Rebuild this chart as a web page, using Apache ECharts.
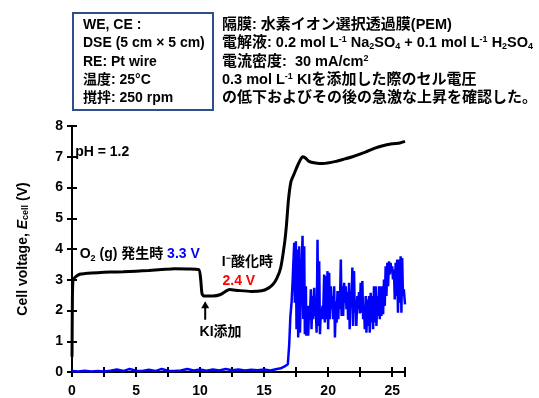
<!DOCTYPE html>
<html>
<head>
<meta charset="utf-8">
<script src="https://cdn.jsdelivr.net/npm/echarts@6/dist/echarts.min.js"></script>
<style>
  html, body { margin: 0; padding: 0; background: #fff; }
  #chart { width: 539px; height: 398px; }
</style>
</head>
<body>
<div id="chart"></div>
<script>
// cell voltage E_cell (V) vs time
const blackCurve = [
  [0, 0.5], [0.03, 2.3], [0.08, 3.0], [0.3, 3.1], [0.6, 3.18], [1, 3.2], [2, 3.23],
  [3, 3.25], [4, 3.26], [5, 3.28], [6, 3.3], [7, 3.33], [8, 3.36], [9, 3.35],
  [9.9, 3.33], [10.05, 3.0], [10.15, 2.55], [10.3, 2.47], [11, 2.47], [11.6, 2.52],
  [12.3, 2.68], [13.0, 2.65], [14, 2.62], [14.8, 2.64], [15.3, 2.72], [15.7, 2.85],
  [16.0, 3.05], [16.3, 3.4], [16.6, 4.2], [16.75, 4.8], [16.9, 5.6], [17.1, 6.2],
  [17.35, 6.45], [17.6, 6.7], [18.0, 7.0], [18.2, 6.97], [18.5, 6.85], [19.0, 6.8],
  [19.6, 6.78], [20.6, 6.85], [21.3, 6.93], [21.9, 7.0], [22.9, 7.15], [23.6, 7.27],
  [24.2, 7.35], [25.0, 7.42], [25.6, 7.45], [26, 7.5]
];

const blueCurve = [
  [0, 0.03], [0.5, 0.02], [1, 0.04], [1.5, 0.02], [2, 0.03], [2.5, 0.02], [3, 0.04],
  [3.5, 0.08], [4, 0.03], [4.5, 0.1], [5, 0.04], [5.5, 0.03], [6, 0.07], [6.5, 0.03],
  [7, 0.1], [7.5, 0.04], [8, 0.03], [8.5, 0.05], [9, 0.1], [9.5, 0.05], [10, 0.08],
  [10.5, 0.04], [11, 0.08], [11.5, 0.05], [12, 0.1], [12.5, 0.06], [13, 0.08],
  [13.5, 0.05], [14, 0.07], [14.5, 0.06], [15, 0.08], [15.5, 0.05], [16, 0.1],
  [16.3, 0.12], [16.6, 0.18], [16.85, 0.25], [16.96, 0.9], [17.05, 1.8], [17.15, 2.3],
  [17.22, 2.9], [17.35, 4.2], [17.4, 2.25], [17.48, 4.25], [17.53, 1.39], [17.61, 3.98],
  [17.66, 1.12], [17.74, 4.09], [17.8, 1.28], [17.87, 2.5], [18.0, 4.43], [18.06, 1.72],
  [18.13, 4.09], [18.18, 1.23], [18.26, 2.79], [18.3, 1.18], [18.39, 2.15], [18.44, 1.18],
  [18.52, 2.15], [18.57, 1.72], [18.65, 2.69], [18.7, 1.39], [18.78, 2.47], [18.83, 1.72],
  [18.91, 2.74], [18.96, 1.82], [19.04, 2.0], [19.1, 1.28], [19.17, 4.3], [19.23, 1.5],
  [19.3, 3.6], [19.36, 1.23], [19.43, 2.04], [19.48, 1.72], [19.56, 2.15], [19.6, 1.72],
  [19.69, 3.17], [19.74, 1.61], [19.82, 3.12], [19.88, 1.72], [19.95, 3.28], [20.0, 1.39],
  [20.08, 3.23], [20.13, 1.72], [20.21, 2.79], [20.26, 2.04], [20.34, 2.47], [20.39, 1.72],
  [20.47, 2.79], [20.53, 1.12], [20.6, 2.3], [20.66, 1.6], [20.73, 2.63], [20.79, 1.72],
  [20.86, 2.63], [20.91, 2.04], [20.99, 3.66], [21.05, 1.82], [21.11, 2.79], [21.17, 1.82],
  [21.25, 2.9], [21.3, 2.25], [21.37, 2.79], [21.43, 2.04], [21.5, 2.6], [21.56, 1.7],
  [21.63, 2.9], [21.68, 1.39], [21.77, 2.63], [21.82, 2.15], [21.89, 3.4], [21.95, 1.5],
  [22.02, 3.28], [22.08, 1.93], [22.15, 2.36], [22.2, 1.5], [22.28, 2.47], [22.33, 2.04],
  [22.41, 2.6], [22.47, 1.9], [22.54, 2.9], [22.6, 1.93], [22.67, 2.96], [22.73, 1.72],
  [22.8, 2.15], [22.86, 1.39], [22.93, 2.47], [22.99, 1.28], [23.06, 2.36], [23.12, 1.5],
  [23.19, 2.47], [23.25, 1.28], [23.32, 2.58], [23.38, 1.61], [23.45, 2.47], [23.51, 1.39],
  [23.58, 2.79], [23.64, 1.61], [23.71, 2.79], [23.77, 1.5], [23.84, 2.47], [23.9, 1.82],
  [23.97, 2.79], [24.03, 1.72], [24.1, 2.79], [24.16, 1.82], [24.23, 2.79], [24.29, 1.88],
  [24.36, 3.01], [24.42, 2.15], [24.49, 3.44], [24.55, 2.47], [24.62, 3.55], [24.68, 2.79],
  [24.75, 3.6], [24.81, 3.17], [24.88, 3.55], [24.94, 3.23], [25.0, 3.44], [25.06, 3.01],
  [25.14, 3.33], [25.2, 2.36], [25.27, 3.55], [25.33, 2.47], [25.39, 3.66], [25.45, 1.93],
  [25.53, 3.66], [25.59, 2.25], [25.66, 3.76], [25.72, 1.93], [25.78, 3.71], [25.84, 2.47],
  [25.91, 2.69], [26.0, 2.2]
];

const xLabels = [0, 5, 10, 15, 20, 25];
const yLabels = [0, 1, 2, 3, 4, 5, 6, 7, 8];

const boxLines = [
  'WE, CE :',
  'DSE (5 cm × 5 cm)',
  'RE: Pt wire',
  '温度: 25°C',
  '撹拌: 250 rpm'
];
const infoLines = [
  '隔膜: 水素イオン選択透過膜(PEM)',
  '電解液: 0.2 mol L{sup|-1} Na{sub|2}SO{sub|4} + 0.1 mol L{sup|-1} H{sub|2}SO{sub|4}',
  '電流密度:  30 mA/cm{sup|2}',
  '0.3 mol L{sup|-1} KIを添加した際のセル電圧',
  'の低下およびその後の急激な上昇を確認した。'
];

const FONT = '"Liberation Sans", "Noto Sans CJK JP", sans-serif';
const chart = echarts.init(document.getElementById('chart'), null, { renderer: 'canvas' });

const axisLine = { show: true, lineStyle: { color: '#000', width: 2 } };
const axisTick = { show: true, length: 5, lineStyle: { color: '#000', width: 2 } };

chart.setOption({
  backgroundColor: '#fff',
  animation: false,
  grid: { left: 72, right: 134, top: 126, bottom: 25, containLabel: false },
  xAxis: [
    {
      type: 'value', min: 0, max: 26, interval: 2.5,
      axisLine, axisTick, splitLine: { show: false },
      axisLabel: {
        margin: 12, color: '#000', fontFamily: FONT, fontWeight: 'bold', fontSize: 14,
        formatter: (v) => (xLabels.includes(v) ? String(v) : '')
      }
    },
    {
      type: 'value', position: 'top', min: 0, max: 26, interval: 2.5,
      axisLine, axisTick, splitLine: { show: false }, axisLabel: { show: false }
    }
  ],
  yAxis: [
    {
      type: 'value', min: 0, max: 8, interval: 1,
      axisLine, axisTick, splitLine: { show: false },
      axisLabel: {
        margin: 9, color: '#000', fontFamily: FONT, fontWeight: 'bold', fontSize: 14,
        formatter: (v) => (yLabels.includes(v) ? String(v) : '')
      },
      name: '{n|Cell voltage, }{e|E}{s|cell}{n| (V)}',
      nameLocation: 'middle', nameGap: 42, nameRotate: 90,
      nameTextStyle: {
        rich: {
          n: { fontFamily: FONT, fontWeight: 'bold', fontSize: 14, color: '#000' },
          e: { fontFamily: FONT, fontWeight: 'bold', fontStyle: 'italic', fontSize: 14, color: '#000' },
          s: { fontFamily: FONT, fontWeight: 'bold', fontSize: 9, color: '#000', verticalAlign: 'bottom', lineHeight: 9, padding: [6, 0, 0, 0] }
        }
      }
    },
    {
      type: 'value', position: 'right', min: 0, max: 8, interval: 1,
      axisLine, axisTick, splitLine: { show: false }, axisLabel: { show: false }
    }
  ],
  series: [
    {
      name: 'current',
      type: 'line', data: blueCurve, symbol: 'none',
      lineStyle: { color: '#0000ff', width: 2.5 }, z: 2
    },
    {
      name: 'cell voltage',
      type: 'line', data: blackCurve, symbol: 'none', smooth: 0.2,
      lineStyle: { color: '#000', width: 3 }, z: 3
    }
  ]
});

// text helpers
const richBase = {
  n: { fontFamily: FONT, fontWeight: 'bold', fontSize: 14, lineHeight: 16, fill: '#000' },
  j: { fontFamily: FONT, fontWeight: 'bold', fontSize: 14, lineHeight: 16, fill: '#000' },
  sup: { fontFamily: FONT, fontWeight: 'bold', fontSize: 9, lineHeight: 9, fill: '#000', verticalAlign: 'top' },
  sub: { fontFamily: FONT, fontWeight: 'bold', fontSize: 9, lineHeight: 9, fill: '#000', verticalAlign: 'bottom' },
  b: { fontFamily: FONT, fontWeight: 'bold', fontSize: 14, lineHeight: 16, fill: '#0000ff' },
  r: { fontFamily: FONT, fontWeight: 'bold', fontSize: 14, lineHeight: 16, fill: '#ff0000' }
};
const richInfo = Object.assign({}, richBase, {
  n: { fontFamily: FONT, fontWeight: 'bold', fontSize: 14.5, lineHeight: 16, fill: '#000' },
  j: { fontFamily: FONT, fontWeight: 'bold', fontSize: 15, lineHeight: 16, fill: '#000' }
});
function wrap(s) {
  // plain runs -> {n|...}, CJK runs -> {j|...}
  return s.split(/(\{[a-z]+\|[^}]*\})/).filter(Boolean)
    .map((p) => {
      if (p.startsWith('{')) return p;
      return p.split(/([\u3000-\u30ff\u4e00-\u9fff]+)/).filter(Boolean)
        .map((q) => (/[\u3000-\u30ff\u4e00-\u9fff]/.test(q) ? '{j|' + q + '}' : '{n|' + q + '}'))
        .join('');
    }).join('');
}
function textEl(x, y, s, align, rich) {
  return {
    type: 'text', x, y, z: 10,
    style: { text: wrap(s), rich: rich || richBase, align: align || 'left', verticalAlign: 'middle' }
  };
}

const lineY = [25, 43, 62, 80, 98];
const graphics = [
  {
    type: 'rect', z: 5,
    shape: { x: 73, y: 13, width: 140, height: 97 },
    style: { fill: 'none', stroke: '#2f4f8a', lineWidth: 2 }
  }
];
boxLines.forEach((s, i) => graphics.push(textEl(83, lineY[i], s)));
infoLines.forEach((s, i) => graphics.push(textEl(222, lineY[i], s, 'left', richInfo)));

// annotations anchored to data coordinates
const px = (t, v) => chart.convertToPixel({ xAxisIndex: 0, yAxisIndex: 0 }, [t, v]);
const notes = [
  { at: [0.25, 7.15], s: 'pH = 1.2' },
  { at: [0.6, 3.82], s: 'O{sub|2} (g) 発生時 {b|3.3 V}' },
  { at: [11.7, 3.57], s: 'I{sup|−}酸化時' },
  { at: [11.75, 2.95], s: '{r|2.4 V}' },
  { at: [11.6, 1.3], s: 'KI添加', align: 'center' }
];
notes.forEach((n) => {
  const p = px(n.at[0], n.at[1]);
  graphics.push(textEl(p[0], p[1], n.s, n.align));
});
const aTop = px(10.4, 2.3);
const aBot = px(10.4, 1.7);
graphics.push({
  type: 'line', z: 10,
  shape: { x1: aTop[0], y1: aTop[1] + 5, x2: aBot[0], y2: aBot[1] },
  style: { stroke: '#000', lineWidth: 2 }
});
graphics.push({
  type: 'polygon', z: 10,
  shape: { points: [[aTop[0], aTop[1]], [aTop[0] - 4, aTop[1] + 7], [aTop[0] + 4, aTop[1] + 7]] },
  style: { fill: '#000' }
});

chart.setOption({ graphic: graphics });
</script>
</body>
</html>
